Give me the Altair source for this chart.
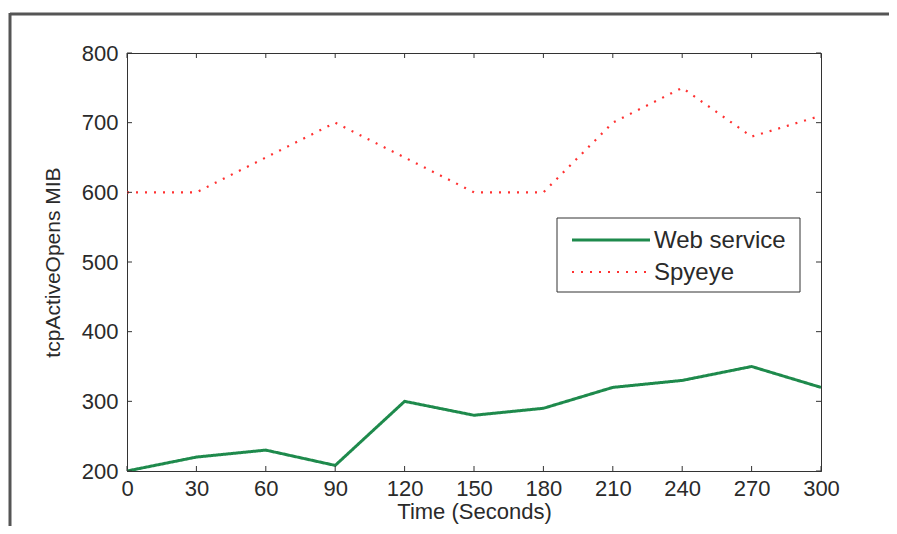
import altair as alt
import pandas as pd

# ---- data ----
time_s = [0, 30, 60, 90, 120, 150, 180, 210, 240, 270, 300]
web_service = [200, 220, 230, 208, 300, 280, 290, 320, 330, 350, 320]
spyeye = [600, 600, 650, 700, 650, 600, 600, 700, 750, 680, 710]
series_names = ["Web service", "Spyeye"]
series_colors = ["#1e8a4c", "#ff3030"]
x_ticks = [0, 30, 60, 90, 120, 150, 180, 210, 240, 270, 300]
y_ticks = [200, 300, 400, 500, 600, 700, 800]
x_title = "Time (Seconds)"
y_title = "tcpActiveOpens MIB"

W, H = 694, 418
FONT = "Liberation Sans"
TXT = "#2a2a2a"

df = pd.DataFrame({
    "time": time_s * 2,
    "value": web_service + spyeye,
    "series": [series_names[0]] * len(time_s) + [series_names[1]] * len(time_s),
})
dfx = pd.DataFrame({"time": x_ticks})
dfy = pd.DataFrame({"value": y_ticks})
one = pd.DataFrame({"a": [0]})

xscale = alt.Scale(domain=[0, 300], nice=False, zero=False)
yscale = alt.Scale(domain=[200, 800], nice=False, zero=False)
xaxis = alt.Axis(title=x_title, values=x_ticks, ticks=False, grid=False,
                 labelPadding=7, titlePadding=2, labelFlush=False,
                 labelFontSize=22, titleFontSize=22)
yaxis = alt.Axis(title=y_title, values=y_ticks, ticks=False, grid=False,
                 labelPadding=9, titlePadding=18, labelFontSize=22, titleFontSize=21)

lines = alt.Chart(df).mark_line(clip=True).encode(
    x=alt.X("time:Q", scale=xscale, axis=xaxis),
    y=alt.Y("value:Q", scale=yscale, axis=yaxis),
    color=alt.Color("series:N", scale=alt.Scale(domain=series_names, range=series_colors),
                    legend=None),
    strokeDash=alt.StrokeDash("series:N",
                              scale=alt.Scale(domain=series_names, range=[[1, 0], [2, 7]]),
                              legend=None),
    strokeWidth=alt.StrokeWidth("series:N",
                                scale=alt.Scale(domain=series_names, range=[3, 2.2]),
                                legend=None),
)

tick_style = dict(color="#333", strokeWidth=1)
bottom_ticks = alt.Chart(dfx).mark_rule(**tick_style).encode(
    x=alt.X("time:Q", scale=xscale, axis=xaxis), y=alt.value(H), y2=alt.value(H - 5))
top_ticks = alt.Chart(dfx).mark_rule(**tick_style).encode(
    x=alt.X("time:Q", scale=xscale, axis=xaxis), y=alt.value(0), y2=alt.value(5))
left_ticks = alt.Chart(dfy).mark_rule(**tick_style).encode(
    y=alt.Y("value:Q", scale=yscale, axis=yaxis), x=alt.value(0), x2=alt.value(5))
right_ticks = alt.Chart(dfy).mark_rule(**tick_style).encode(
    y=alt.Y("value:Q", scale=yscale, axis=yaxis), x=alt.value(W), x2=alt.value(W - 5))

# legend box (drawn by hand, MATLAB style)
LX0, LX1, LY0, LY1 = 430, 673, 165, 239
leg_box = alt.Chart(one).mark_rect(fill="white", stroke="#333", strokeWidth=1).encode(
    x=alt.value(LX0), x2=alt.value(LX1), y=alt.value(LY0), y2=alt.value(LY1))
leg_items = []
for i, (name, col) in enumerate(zip(series_names, series_colors)):
    yy = 187 + 32 * i
    dash = [1, 0] if i == 0 else [2, 7]
    sw = 3 if i == 0 else 2.2
    leg_items.append(alt.Chart(one).mark_rule(color=col, strokeWidth=sw, strokeDash=dash).encode(
        x=alt.value(445), x2=alt.value(523), y=alt.value(yy)))
    leg_items.append(alt.Chart(one).mark_text(
        align="left", baseline="middle", font=FONT, fontSize=24, color=TXT).encode(
        x=alt.value(527), y=alt.value(yy + 1), text=alt.value(name)))

# decorative figure box of the page
fig_top = alt.Chart(one).mark_rule(color="#555", strokeWidth=3).encode(
    x=alt.value(-117), x2=alt.value(780), y=alt.value(-39))
fig_left = alt.Chart(one).mark_rule(color="#555", strokeWidth=3).encode(
    x=alt.value(-117), y=alt.value(-40), y2=alt.value(480))

chart = alt.layer(
    lines, bottom_ticks, top_ticks, left_ticks, right_ticks,
    leg_box, *leg_items, fig_top, fig_left,
).properties(
    width=W, height=H,
    autosize=alt.AutoSizeParams(type="none"),
    padding={"left": 119, "top": 45, "right": 68, "bottom": 55},
    background="white",
).configure_view(
    stroke="#333", strokeWidth=1,
).configure_axis(
    labelFont=FONT, titleFont=FONT,
    labelColor=TXT, titleColor=TXT, titleFontWeight="normal",
    domainColor="#333", domainWidth=1,
)

chart.save("out.html", embed_options={"renderer": "svg", "actions": False})
